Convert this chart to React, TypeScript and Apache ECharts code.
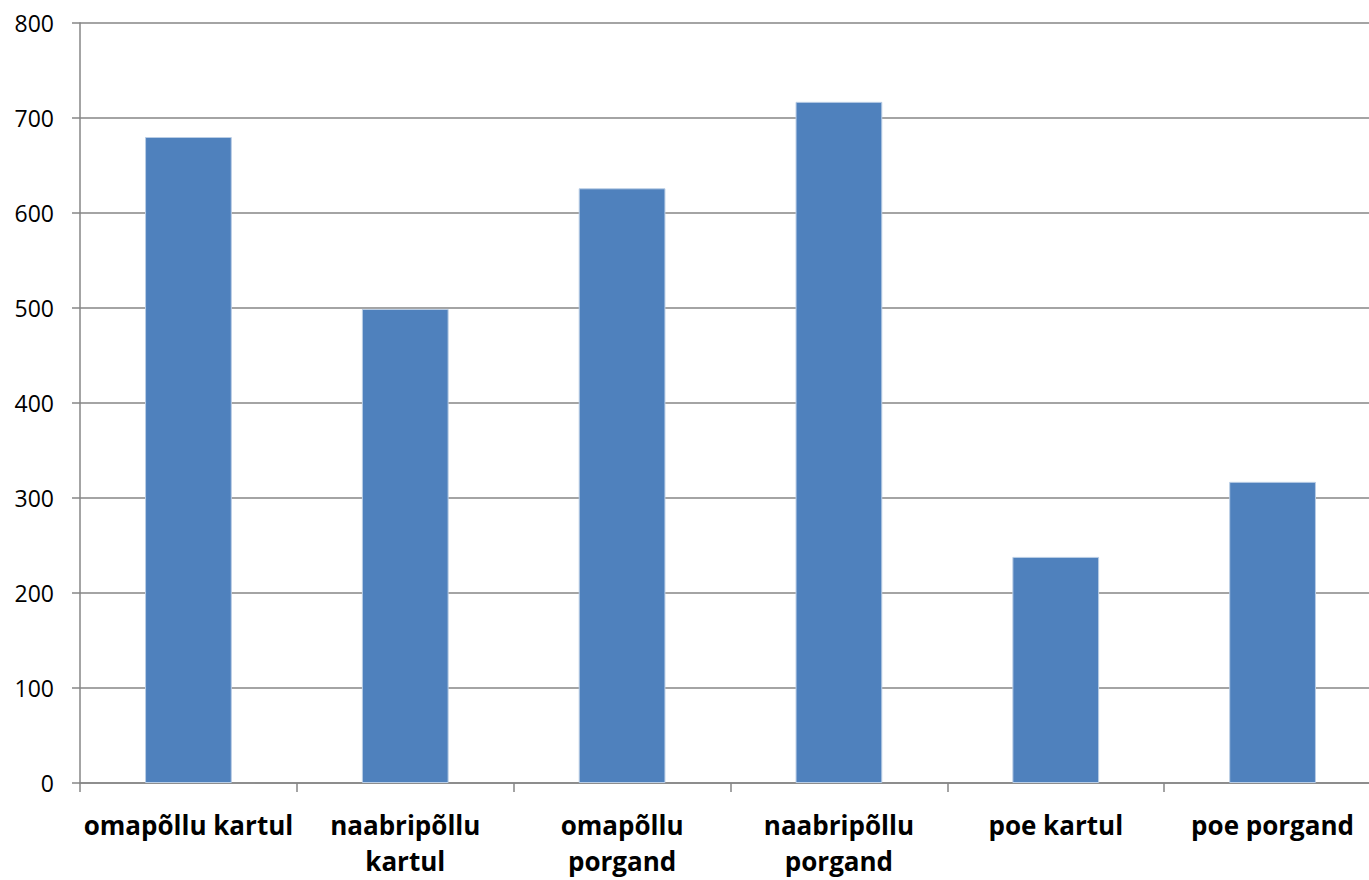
import React, { useEffect, useRef } from "react";
import * as echarts from "echarts";

const CATEGORIES = [
  "omapõllu kartul",
  "naabripõllu kartul",
  "omapõllu porgand",
  "naabripõllu porgand",
  "poe kartul",
  "poe porgand",
];
const LABELS = [
  "omapõllu kartul",
  "naabripõllu\nkartul",
  "omapõllu\nporgand",
  "naabripõllu\nporgand",
  "poe kartul",
  "poe porgand",
];
const VALUES = [680, 499, 626, 717, 238, 317];
const Y_MIN = 0;
const Y_MAX = 800;
const Y_STEP = 100;

export default function App() {
  const ref = useRef<HTMLDivElement>(null);
  useEffect(() => {
    document.body.style.margin = "0";
    const chart = echarts.init(ref.current!, null, { renderer: "svg" });
    chart.setOption({
      animation: false,
      backgroundColor: "#ffffff",
      grid: { left: 80, right: 0, top: 23, bottom: 97, containLabel: false },
      xAxis: {
        type: "category",
        data: CATEGORIES,
        axisLine: { lineStyle: { color: "#868686", width: 1.5 } },
        axisTick: { show: true, length: 9, lineStyle: { color: "#868686", width: 1.5 } },
        axisLabel: {
          interval: 0,
          margin: 24,
          formatter: (_v: string, i: number) => LABELS[i],
          fontFamily: "Open Sans",
          fontWeight: "bold",
          fontSize: 26,
          lineHeight: 36,
          color: "#000000",
        },
      },
      yAxis: {
        type: "value",
        min: Y_MIN,
        max: Y_MAX,
        interval: Y_STEP,
        axisLine: { show: true, lineStyle: { color: "#868686", width: 1.5 } },
        axisTick: { show: true, length: 8, lineStyle: { color: "#868686", width: 1.5 } },
        splitLine: { lineStyle: { color: "#868686", width: 1.5 } },
        axisLabel: {
          margin: 26,
          fontFamily: "Open Sans",
          fontSize: 23,
          color: "#000000",
        },
      },
      series: [
        {
          type: "bar",
          data: VALUES,
          barWidth: "40%",
          itemStyle: { color: "#4F81BD", borderColor: "#B9CDE5", borderWidth: 1 },
        },
      ],
    });
    return () => chart.dispose();
  }, []);
  return (
    <div style={{ width: 1369, height: 880, overflow: "hidden", position: "relative" }}>
      <div ref={ref} style={{ width: 1381, height: 880 }} />
    </div>
  );
}
